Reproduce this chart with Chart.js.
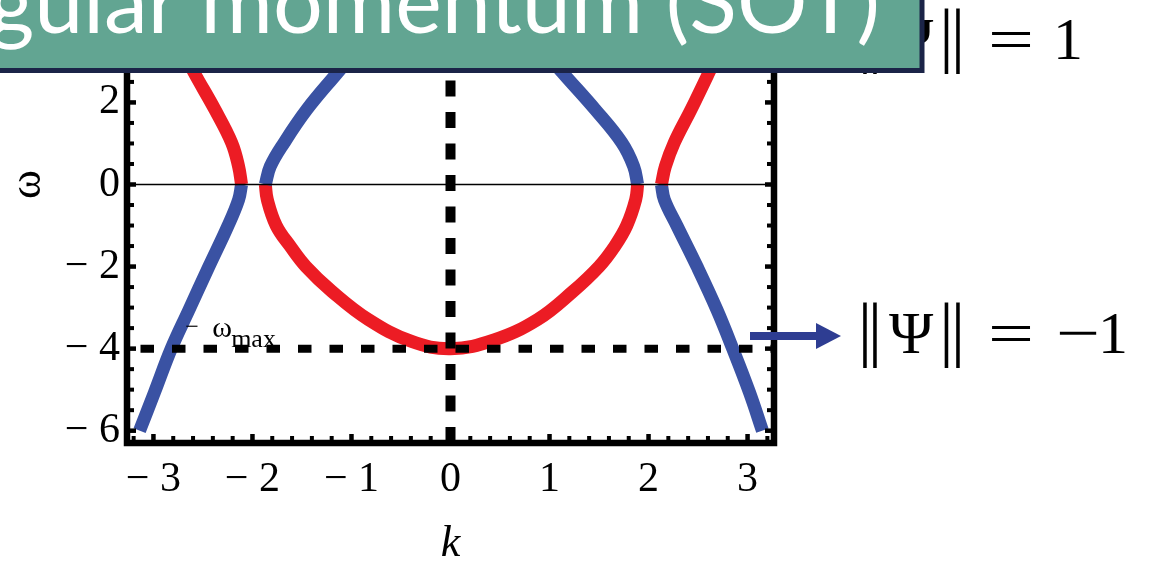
<!DOCTYPE html>
<html>
<head>
<meta charset="utf-8">
<script src="https://cdn.jsdelivr.net/npm/chart.js@4.4.1/dist/chart.umd.min.js"></script>
<style>
  html, body { margin: 0; padding: 0; width: 1153px; height: 562px; overflow: hidden; background: #fff; }
  body { position: relative; }
  #plot { position: absolute; left: 0; top: -74px; width: 1153px; height: 657px; z-index: 1; }
  #overlay { position: absolute; left: 0; top: 0; z-index: 2; }
</style>
</head>
<body>
<div id="plot"><canvas id="chart"></canvas></div>

<svg id="overlay" width="1153" height="562" xmlns="http://www.w3.org/2000/svg">
  <!-- norm of the upper branches (partly under the title bar) -->
  <text y="59" font-family="Liberation Serif, 'Times New Roman', serif" font-size="60" fill="#000"><tspan font-size="72" x="857.8 867.8">||</tspan><tspan x="889">Ψ</tspan><tspan font-size="72" x="939.3 950.8">||</tspan><tspan x="988" textLength="46" lengthAdjust="spacingAndGlyphs">=</tspan><tspan x="1053">1</tspan></text>
  <!-- norm of the lower branches -->
  <text y="353" font-family="Liberation Serif, 'Times New Roman', serif" font-size="60" fill="#000"><tspan font-size="72" x="857.8 867.8">||</tspan><tspan x="889">Ψ</tspan><tspan font-size="72" x="939.3 950.8">||</tspan><tspan x="988" textLength="46" lengthAdjust="spacingAndGlyphs">=</tspan><tspan x="1056" textLength="44" lengthAdjust="spacingAndGlyphs">−</tspan><tspan x="1098">1</tspan></text>
  <!-- arrow from the lower branches to their norm -->
  <line x1="750" y1="336" x2="820" y2="336" stroke="#2E3D92" stroke-width="8"/>
  <polygon points="816,323 841,336 816,349" fill="#2E3D92"/>
  <!-- slide title bar -->
  <rect x="-10" y="-10" width="932" height="80.5" fill="#62A592" stroke="#1B2448" stroke-width="5"/>
  <text x="880" y="33" text-anchor="end" font-family="Lato, 'Noto Sans', sans-serif" font-size="88" fill="#fff">gular momentum (SOT)</text>
</svg>

<script>
// Dispersion branches ω(k), sampled along each branch; colour marks the norm sign
const kRedOuterL  = [-2.71, -2.59, -2.38, -2.21, -2.14, -2.11];
const wRedOuterL  = [ 3.30,  2.73,  1.83,  1.02,  0.44,  0.00];
const kBlueOuterL = [-2.11, -2.14, -2.25, -2.44, -2.64, -2.82, -2.99, -3.14];
const wBlueOuterL = [ 0.00, -0.37, -1.02, -2.00, -3.05, -4.00, -5.07, -6.00];
const kBlueInnerL = [-0.94, -1.14, -1.45, -1.68, -1.82, -1.87];
const wBlueInnerL = [ 3.30,  2.73,  1.83,  1.02,  0.44,  0.00];
const kRedInner   = [-1.87, -1.85, -1.76, -1.62, -1.46, -1.20, -0.83, -0.40, 0.00, 0.44, 0.88, 1.23, 1.50, 1.66, 1.78, 1.87, 1.89];
const wRedInner   = [ 0.00, -0.37, -1.00, -1.50, -2.00, -2.60, -3.29, -3.82, -4.00, -3.79, -3.29, -2.62, -2.00, -1.50, -1.00, -0.37, 0.00];
const kBlueInnerR = [ 1.89,  1.85,  1.73,  1.46,  1.13,  0.93];
const wBlueInnerR = [ 0.00,  0.44,  1.02,  1.83,  2.73,  3.30];
const kRedOuterR  = [ 2.13,  2.17,  2.26,  2.43,  2.61,  2.72];
const wRedOuterR  = [ 0.00,  0.44,  1.02,  1.83,  2.73,  3.30];
const kBlueOuterR = [ 2.13,  2.16,  2.29,  2.49,  2.69,  2.85,  3.02,  3.15];
const wBlueOuterR = [ 0.00, -0.37, -1.02, -2.00, -3.05, -4.00, -5.07, -6.00];

// Reference levels
const omegaMax = -4;   // dashed ω_max line
const kCentre = 0;     // dashed k = 0 line

// Axes
const kAxisMin = -3.267, kAxisMax = 3.267;
const wAxisMin = -6.3,   wAxisMax = 6.3;
const kTicks = [-3, -2, -1, 0, 1, 2, 3];
const wTicks = [-6, -4, -2, 0, 2, 4, 6];
const omegaMaxLabelK = -2.68;

const RED = '#EC1C24';
const BLUE = '#3A52A3';
const SERIF = "'Liberation Serif', 'Times New Roman', serif";

const pts = (ks, ws) => ks.map((k, i) => ({ x: k, y: ws[i] }));
const fmt = v => (v < 0 ? '\u2212 ' + Math.abs(v) : String(v));

function branch(ks, ws, color) {
  return {
    data: pts(ks, ws), borderColor: color, borderWidth: 13, borderCapStyle: 'butt',
    pointRadius: 0, tension: 0.4, showLine: true, fill: false, order: 2
  };
}

const datasets = [
  // reference lines drawn above the branches
  { data: [{ x: kCentre, y: wAxisMin }, { x: kCentre, y: wAxisMax }], borderColor: '#000',
    borderWidth: 10, borderDash: [16, 15.5], borderCapStyle: 'butt', pointRadius: 0, showLine: true, order: 0 },
  { data: [{ x: kAxisMin, y: omegaMax }, { x: kAxisMax, y: omegaMax }], borderColor: '#000',
    borderWidth: 8, borderDash: [13.5, 18], borderDashOffset: 18, borderCapStyle: 'butt', pointRadius: 0, showLine: true, order: 0 },
  { data: [{ x: kAxisMin, y: 0 }, { x: kAxisMax, y: 0 }], borderColor: '#000',
    borderWidth: 1.5, pointRadius: 0, showLine: true, order: 0 },
  branch(kRedOuterL, wRedOuterL, RED),
  branch(kBlueOuterL, wBlueOuterL, BLUE),
  branch(kBlueInnerL, wBlueInnerL, BLUE),
  branch(kRedInner, wRedInner, RED),
  branch(kBlueInnerR, wBlueInnerR, BLUE),
  branch(kRedOuterR, wRedOuterR, RED),
  branch(kBlueOuterR, wBlueOuterR, BLUE)
];

// Thick frame with inward ticks on all four sides, plus the ω_max label
const framePlugin = {
  id: 'frame',
  afterDatasetsDraw(chart) {
    const { ctx, chartArea: a, scales: { x, y } } = chart;
    ctx.save();
    ctx.fillStyle = '#000';
    for (let i = -16; i <= 16; i++) {
      const px = x.getPixelForValue(i / 5);
      const major = i % 5 === 0;
      const len = major ? 9 : 7, w = major ? 4.5 : 4;
      ctx.fillRect(px - w / 2, a.bottom - len, w, len);
      ctx.fillRect(px - w / 2, a.top, w, len);
    }
    for (let i = -12; i <= 12; i++) {
      const py = y.getPixelForValue(i / 2);
      const major = i % 4 === 0;
      const len = major ? 9 : 7, w = major ? 4.5 : 4;
      ctx.fillRect(a.left, py - w / 2, len, w);
      ctx.fillRect(a.right - len, py - w / 2, len, w);
    }
    ctx.strokeStyle = '#000';
    ctx.lineWidth = 6.5;
    ctx.strokeRect(a.left, a.top, a.right - a.left, a.bottom - a.top);

    // ω_max label next to the dashed line
    const lx = x.getPixelForValue(omegaMaxLabelK);
    const ly = y.getPixelForValue(omegaMax);
    ctx.textBaseline = 'alphabetic';
    ctx.textAlign = 'left';
    ctx.font = '24px ' + SERIF;
    ctx.fillText('\u2212', lx, ly - 15);
    ctx.font = '30px ' + SERIF;
    ctx.fillText('\u03C9', lx + 27, ly - 12);
    ctx.font = '26px ' + SERIF;
    ctx.fillText('max', lx + 46, ly - 2);
    ctx.restore();
  }
};

new Chart(document.getElementById('chart'), {
  type: 'scatter',
  data: { datasets },
  plugins: [framePlugin],
  options: {
    responsive: true,
    maintainAspectRatio: false,
    animation: false,
    devicePixelRatio: 1,
    layout: { padding: { left: 0, right: 379, top: 0, bottom: 0 } },
    plugins: { legend: { display: false }, tooltip: { enabled: false } },
    scales: {
      x: {
        type: 'linear', position: 'bottom', min: kAxisMin, max: kAxisMax,
        grid: { display: false, drawTicks: false }, border: { display: false },
        afterBuildTicks: s => { s.ticks = kTicks.map(v => ({ value: v })); },
        afterFit: s => { s.height = 140; s.paddingLeft = 0; s.paddingRight = 0; },
        ticks: { autoSkip: false, maxRotation: 0, padding: 12, color: '#000',
                 font: { family: SERIF, size: 42 }, callback: v => fmt(v) },
        title: { display: true, text: 'k', color: '#000',
                 font: { family: SERIF, size: 44, style: 'italic' }, padding: { top: 0, bottom: 12 } }
      },
      y: {
        type: 'linear', position: 'left', min: wAxisMin, max: wAxisMax,
        grid: { display: false, drawTicks: false }, border: { display: false },
        afterBuildTicks: s => { s.ticks = wTicks.map(v => ({ value: v })); },
        afterFit: s => { s.width = 127; s.paddingTop = 0; s.paddingBottom = 0; },
        ticks: { autoSkip: false, padding: 7, color: '#000',
                 font: { family: SERIF, size: 42 }, callback: v => fmt(v) },
        title: { display: true, text: '\u03C9', color: '#000',
                 font: { family: SERIF, size: 44 }, padding: { top: 2, bottom: 0 } }
      }
    }
  }
});
</script>
</body>
</html>
